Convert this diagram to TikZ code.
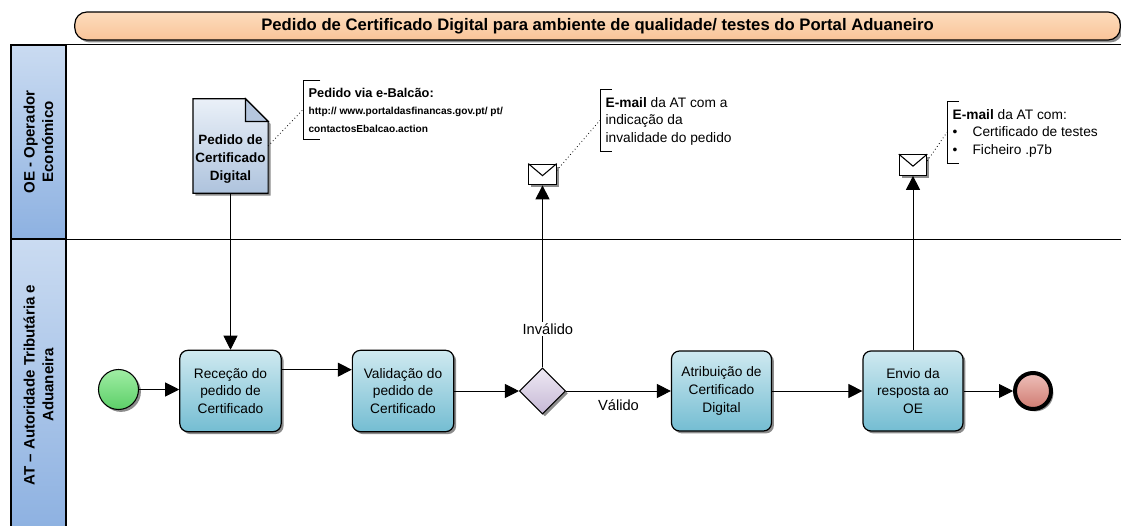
\documentclass[tikz,border=0pt]{standalone}
\usepackage{fontspec}
\setmainfont{Liberation Sans}
\usetikzlibrary{positioning,shapes.geometric,shadows,arrows.meta,backgrounds}
\definecolor{titlet}{HTML}{FDDCBD}
\definecolor{titleb}{HTML}{F9C498}
\definecolor{lanel}{HTML}{CADBF1}
\definecolor{laner}{HTML}{8DB1E1}
\definecolor{taskt}{HTML}{CFE9F0}
\definecolor{taskb}{HTML}{74BDD2}
\definecolor{doct}{HTML}{EAF0F8}
\definecolor{docb}{HTML}{AEC3DD}
\definecolor{foldc}{HTML}{B5C6DE}
\definecolor{startt}{HTML}{A0EDA4}
\definecolor{startb}{HTML}{5CCF68}
\definecolor{endt}{HTML}{EEC0BA}
\definecolor{endb}{HTML}{CF7A70}
\definecolor{gatet}{HTML}{EEE9F4}
\definecolor{gateb}{HTML}{C6B8D5}
\tikzset{
softshadow/.style = {drop shadow={shadow xshift=1.8pt,shadow yshift=-1.8pt,opacity=.45,fill=black}},
titlebar/.style = {draw, line width=.9pt, rounded corners=9pt, top color=titlet, bottom color=titleb, minimum width=784pt, minimum height=21pt, inner sep=0pt, font=\fontsize{12.5}{14}\selectfont\bfseries, softshadow},
lanehead/.style = {draw, line width=1.1pt, rotate=90, top color=lanel, bottom color=laner, align=center, inner sep=0pt, minimum height=41.25pt, font=\fontsize{11.3}{14}\selectfont\bfseries},
lanesep/.style = {line width=1pt},
task/.style = {draw, line width=.9pt, rounded corners=6pt, top color=taskt, bottom color=taskb, align=center, minimum width=76pt, minimum height=61pt, inner sep=0pt, font=\fontsize{10.3}{13.4}\selectfont, softshadow},
gate/.style = {draw, line width=.8pt, diamond, top color=gatet, bottom color=gateb, minimum width=34.5pt, minimum height=34.5pt, inner sep=0pt, softshadow},
startev/.style = {draw, line width=.8pt, circle, top color=startt, bottom color=startb, minimum size=30pt, inner sep=0pt, softshadow},
endev/.style = {draw, line width=3pt, circle, top color=endt, bottom color=endb, minimum size=27pt, inner sep=0pt, softshadow},
letter/.style = {draw, line width=.8pt, fill=white, minimum width=20.5pt, minimum height=15.5pt, inner sep=0pt, softshadow},
docbox/.style = {minimum width=56pt, minimum height=70.5pt, inner sep=0pt, align=center, font=\fontsize{10.1}{13.4}\selectfont\bfseries},
note/.style = {anchor=north west, align=left, inner sep=0pt, font=\fontsize{10.3}{13.4}\selectfont},
flow/.style = {draw, line width=.7pt, ->},
assoc/.style = {draw, line width=.6pt, dotted},
flowlabel/.style = {font=\fontsize{11}{12}\selectfont, fill=white, inner sep=1pt}
}

\begin{document}
\begin{tikzpicture}[x=.75pt,y=-.75pt,>={Triangle[length=10.5pt,width=10.5pt]}]
    \useasboundingbox (0,0) rectangle (1121,525);

    \node  [titlebar] (title) at (597.5,26) {Pedido de Certificado Digital para ambiente de qualidade/ testes do Portal Aduaneiro};

    \node  [lanehead,minimum width=145.5pt] (laneOE) at (38.5,142) {OE - Operador\\Económico};
    \node  [lanehead,minimum width=219pt] (laneAT) at (38.5,385) {AT – Autoridade Tributária e\\Aduaneira};
    \coordinate (endOE) at (1121,45);
    \coordinate (endAT) at (1121,239);
    \draw[lanesep]  (laneOE.east) -- (laneOE.east -| endOE);
    \draw[lanesep]  (laneOE.west) -- (laneOE.west -| endAT);

    % document
    \node  [docbox] (doc) at (230.5,146) {\\[13pt]Pedido de\\Certificado\\Digital};
    \begin{scope}[on background layer]
      \draw[line width=.9pt, top color=doct, bottom color=docb, softshadow] (doc.north west) -- ([xshift=-17pt]doc.north east) -- ([yshift=-17pt]doc.north east) -- (doc.south east) -- (doc.south west) -- cycle;
      \draw[line width=.9pt, fill=foldc] ([xshift=-17pt]doc.north east) -- ([xshift=-17pt,yshift=-17pt]doc.north east) -- ([yshift=-17pt]doc.north east) -- cycle;
    \end{scope}

    % process
    \node  [startev] (start) at (118.5,389.5) {};
    \node  [task] (recep) at (230.5,391) {Receção do\\pedido de\\Certificado};
    \node  [task,right=52.5pt of recep] (valid) {Validação do\\pedido de\\Certificado};
    \node  [gate] (check) at (542.5,391) {};
    \node  [task,minimum width=75pt,minimum height=60pt] (assign) at (721.5,391) {Atribuição de\\Certificado\\Digital};
    \node  [task,minimum width=75pt,minimum height=60pt] (send) at (913,391) {Envio da\\resposta ao\\OE};
    \node  [endev] (finish) at (1033,391) {};

    % messages
    \node  [letter] (mail1) at (542.5,174.5) {};
    \draw[line width=.8pt]  (mail1.north west) -- ([yshift=-9pt]mail1.north) -- (mail1.north east);
    \node  [letter] (mail2) at (913,165) {};
    \draw[line width=.8pt]  (mail2.north west) -- ([yshift=-9pt]mail2.north) -- (mail2.north east);

    % notes
    \node  [note,minimum height=44pt] (note1) at (303,80) {\hspace*{4pt}\begin{tabular}{@{}l@{}}\rule{0pt}{12pt}\fontsize{9.6}{13}\selectfont\textbf{Pedido via e-Balcão:}\\{\fontsize{7.6}{13}\selectfont\textbf{http:// www.portaldasfinancas.gov.pt/ pt/}}\\{\fontsize{7.6}{13}\selectfont\textbf{contactosEbalcao.action}}\end{tabular}};
    \draw[line width=.6pt]  ([xshift=13pt]note1.north west) -- (note1.north west) -- (note1.south west) -- ([xshift=13pt]note1.south west);
    \node  [note,minimum height=46.5pt] (note2) at (600,89) {\hspace*{4pt}\begin{tabular}{@{}l@{}}\rule{0pt}{11pt}\textbf{E-mail} da AT com a\\indicação da\\invalidade do pedido\end{tabular}};
    \draw[line width=.6pt]  ([xshift=9pt]note2.north west) -- (note2.north west) -- (note2.south west) -- ([xshift=9pt]note2.south west);
    \node  [note,minimum height=46.5pt] (note3) at (947,101) {\hspace*{4pt}\begin{tabular}{@{}l@{}}\rule{0pt}{11pt}\textbf{E-mail} da AT com:\\\makebox[15pt][l]{\textbullet}Certificado de testes\\\makebox[15pt][l]{\textbullet}Ficheiro .p7b\end{tabular}};
    \draw[line width=.6pt]  ([xshift=9pt]note3.north west) -- (note3.north west) -- (note3.south west) -- ([xshift=9pt]note3.south west);

    \draw[assoc]  (doc.east) -- (note1.west);
    \draw[assoc]  ([yshift=3pt]mail1.east) -- (note2.west);
    \draw[assoc]  ([yshift=3pt]mail2.east) -- (note3.west);

    \draw[flow]  (doc) -- (recep);
    \draw[flow]  (start) -- (recep.west |- start);
    \draw[flow]  ([yshift=16pt]recep.east) -- ([yshift=16pt]valid.west);
    \draw[flow]  (valid) -- (check);
    \draw[flow]  (check) -- node[flowlabel,pos=.21,xshift=4pt] {Inválido} (mail1);
    \draw[flow]  (check) -- node[flowlabel,below=5pt,fill=none] {Válido} (assign);
    \draw[flow]  (assign) -- (send);
    \draw[flow]  (send) -- (mail2);
    \draw[flow]  (send) -- (finish);

  \end{tikzpicture}
\end{document}
